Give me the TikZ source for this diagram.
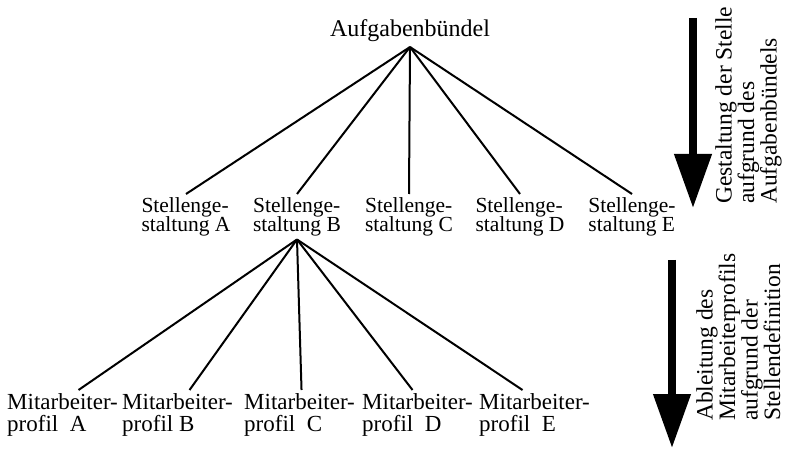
\documentclass[tikz,border=0pt]{standalone}
\usepackage{fontspec}
\setmainfont{Liberation Serif}
\usetikzlibrary{arrows.meta}

\newcommand{\engzeilen}{\setlength{\lineskiplimit}{-50pt}\setlength{\lineskip}{0pt}}

\begin{document}
\begin{tikzpicture}[x=1pt, y=-1pt,
    every node/.style={inner sep=0pt, align=left},
    stelle/.style={anchor=north, inner ysep=3pt,
      font={\fontsize{21.5}{19.5}\selectfont\engzeilen}},
    profil/.style={anchor=north west, inner ysep=3pt,
      font={\fontsize{23}{22}\selectfont\engzeilen}},
    hinweis/.style={rotate=90, anchor=north west,
      font={\fontsize{23.5}{22.5}\selectfont\engzeilen}},
    pfeil/.style={line width=7.5pt, -{Triangle[width=36pt,length=54pt]}},
    ast/.style={line width=2pt}]
  \useasboundingbox (0,0) rectangle (790,449);

  \node[anchor=south, inner ysep=5pt, font=\fontsize{24}{24}\selectfont] (aufg) at (410,47) {Aufgabenbündel};

  \node[stelle] (sA) at (186,194) {Stellenge-\\staltung A};
  \node[stelle] (sB) at (297,194) {Stellenge-\\staltung B};
  \node[stelle] (sC) at (409,194) {Stellenge-\\staltung C};
  \node[stelle] (sD) at (520,194) {Stellenge-\\staltung D};
  \node[stelle] (sE) at (632,194) {Stellenge-\\staltung E};

  \node[profil] (pA) at (7,390) {Mitarbeiter-\\profil\ \ A};
  \node[profil] (pB) at (122,390) {Mitarbeiter-\\profil B};
  \node[profil] (pC) at (244,390) {Mitarbeiter-\\profil\ \ C};
  \node[profil] (pD) at (362,390) {Mitarbeiter-\\profil\ \ D};
  \node[profil] (pE) at (479,390) {Mitarbeiter-\\profil\ \ E};

  \draw[ast] (aufg.south) -- (sA.north);
  \draw[ast] (aufg.south) -- (sB.north);
  \draw[ast] (aufg.south) -- (sC.north);
  \draw[ast] (aufg.south) -- (sD.north);
  \draw[ast] (aufg.south) -- (sE.north);

  \draw[ast] (sB.south) -- ([xshift=16pt]pA.north);
  \draw[ast] (sB.south) -- ([xshift=12pt]pB.north);
  \draw[ast] (sB.south) -- ([xshift=2pt]pC.north);
  \draw[ast] (sB.south) -- ([xshift=-5pt]pD.north);
  \draw[ast] (sB.south) -- ([xshift=-12pt]pE.north);

  % Pfeile rechts
  \coordinate (oben1) at (693,18);
  \coordinate (unten1) at (693,208);
  \coordinate (oben2) at (672,260);
  \coordinate (unten2) at (672,448);
  \draw[pfeil] (oben1) -- (unten1);
  \draw[pfeil] (oben2) -- (unten2);

  \node[hinweis] (h1) at (715,204) {Gestaltung der Stelle\\aufgrund des\\Aufgabenbündels};
  \node[hinweis] (h2) at (696,421) {Ableitung des\\Mitarbeiterprofils\\aufgrund der\\Stellendefinition};
\end{tikzpicture}
\end{document}
